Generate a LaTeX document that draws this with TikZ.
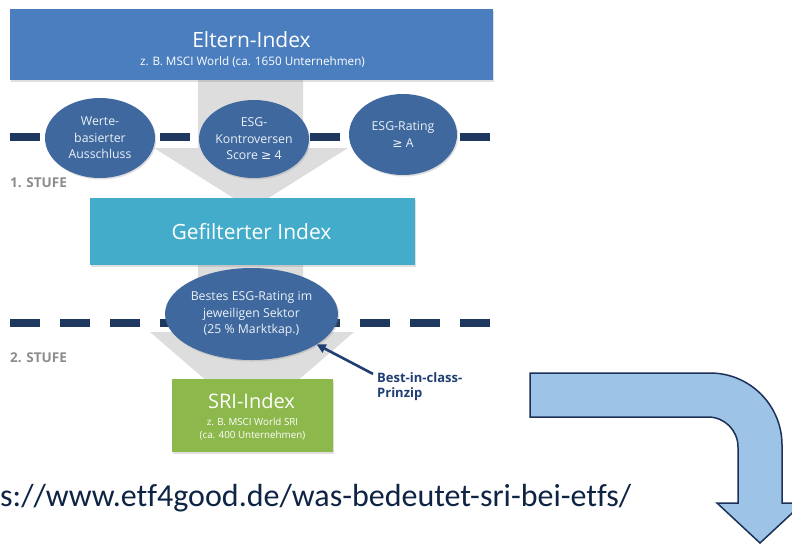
\documentclass[tikz,border=0pt]{standalone}
\usepackage{fontspec}
\setmainfont{Open Sans}
\newfontfamily\calib{Carlito}[Ligatures=NoCommon]
\newfontfamily\symf{DejaVu Sans}
\usetikzlibrary{shapes.geometric,arrows.meta,shadows}
\definecolor{elternc}{RGB}{74,126,190}
\definecolor{ellc}{RGB}{62,104,158}
\definecolor{filtc}{RGB}{66,172,202}
\definecolor{sric}{RGB}{141,184,76}
\definecolor{dashc}{RGB}{31,56,96}
\definecolor{funnelc}{RGB}{221,221,221}
\definecolor{stufec}{RGB}{140,140,140}
\definecolor{bicc}{RGB}{31,63,115}
\definecolor{urlc}{RGB}{14,36,68}
\definecolor{bentfill}{RGB}{157,195,230}
\definecolor{bentline}{RGB}{28,48,88}
\definecolor{elltext}{RGB}{236,241,247}
\begin{document}
\begin{tikzpicture}[x=1pt,y=-1pt,
  funnel/.style={fill=funnelc},
  dashline/.style={draw=dashc,line width=7.5pt,dash pattern=on 30pt off 20pt},
  boxnode/.style={rectangle,inner sep=0pt,drop shadow={shadow xshift=1.2pt,shadow yshift=-1.5pt,opacity=0.25}},
  ellnode/.style={ellipse,fill=ellc,inner sep=0pt,align=center,text=elltext,
     font=\fontsize{12.3}{16.5}\selectfont,
     drop shadow={shadow xshift=1.2pt,shadow yshift=-1.5pt,opacity=0.25}},
  whitetext/.style={text=white,inner sep=0pt},
  stufetext/.style={text=stufec,inner sep=0pt,anchor=base west,font=\bfseries\fontsize{13.5}{15}\selectfont},
  bictext/.style={text=bicc,inner sep=0pt,anchor=base west,font=\bfseries\fontsize{13}{15}\selectfont},
  bicarrow/.style={draw=bicc,line width=2.6pt,-{Triangle[length=9pt,width=9pt]}},
  bent/.style={fill=bentfill,draw=bentline,line width=1.5pt,line join=miter}
]
\useasboundingbox (0,0) rectangle (792,546);
\clip (0,0) rectangle (792,546);
\fill[white] (0,0) rectangle (792,546);

% grey funnel arrows
\fill[funnel] (198,80) -- (303,80) -- (303,148) -- (348,148) -- (251,209) -- (154,148) -- (198,148) -- cycle;
\fill[funnel] (198,262) -- (303,262) -- (303,332) -- (354,332) -- (252,420) -- (150,332) -- (198,332) -- cycle;

% dashed stage lines
\draw[dashline] (10,137) -- (490,137);
\draw[dashline] (10,323) -- (490,323);

% Eltern-Index
\node[boxnode,fill=elternc,minimum width=483pt,minimum height=71pt] (eltern) at (251.5,44.5) {};
\node[whitetext,anchor=base,font=\fontsize{21}{25}\selectfont] (elternT) at (251.5,47) {Eltern-Index};
\node[whitetext,anchor=base,font=\fontsize{11.7}{13}\selectfont] (elternS) at (252.5,65.5) {z. B. MSCI World (ca. 1650 Unternehmen)};

% filters of stage 1
\node[ellnode,minimum width=110pt,minimum height=80pt] (e1) at (100,138) {Werte-\\basierter\\Ausschluss};
\node[ellnode,minimum width=110pt,minimum height=78pt] (e2) at (254,139) {ESG-\\Kontroversen\\Score {\symf ≥} 4};
\node[ellnode,minimum width=108pt,minimum height=81pt] (e3) at (403,134.5) {ESG-Rating\\{\symf ≥} A};
\node[stufetext] (st1) at (10,187) {1. STUFE};

% Gefilterter Index
\node[boxnode,fill=filtc,minimum width=325pt,minimum height=67pt] (filt) at (252.5,231.5) {};
\node[whitetext,anchor=base,font=\fontsize{21}{25}\selectfont] (filtT) at (251.5,239) {Gefilterter Index};

% stage 2
\node[ellnode,minimum width=173pt,minimum height=92pt] (e4) at (251.5,314) {Bestes ESG-Rating im\\jeweiligen Sektor\\(25 \% Marktkap.)};
\node[stufetext] (st2) at (10,362) {2. STUFE};

% SRI-Index
\node[boxnode,fill=sric,minimum width=161pt,minimum height=73pt] (sri) at (252.5,415.5) {};
\node[whitetext,anchor=base,font=\fontsize{20}{23}\selectfont] (sriT) at (251.5,408) {SRI-Index};
\node[whitetext,anchor=base,font=\fontsize{9.8}{11}\selectfont] (sriS1) at (252.5,425) {z. B. MSCI World SRI};
\node[whitetext,anchor=base,font=\fontsize{9.8}{11}\selectfont] (sriS2) at (252.5,438) {(ca. 400 Unternehmen)};

% best-in-class
\node[bictext] (bic1) at (377,382) {Best-in-class-};
\node[bictext] (bic2) at (377,397) {Prinzip};
\draw[bicarrow] ([xshift=-4pt,yshift=-2pt]bic1.north west) -- (e4.-25);

% source URL
\node[anchor=base west,inner sep=0pt,text=urlc,font=\calib\fontsize{32}{38}\selectfont] (url) at (0,506) {s://www.etf4good.de/was-bedeutet-sri-bei-etfs/};

% bent arrow
\draw[bent] (530,373) -- (710,373)
  .. controls (749.8,373) and (782,405.2) .. (782,445)
  -- (782,503) -- (803,503) -- (760,543) -- (717,503) -- (738,503) -- (738,447)
  .. controls (738,430.4) and (724.6,417) .. (708,417)
  -- (530,417) -- cycle;
\end{tikzpicture}
\end{document}
